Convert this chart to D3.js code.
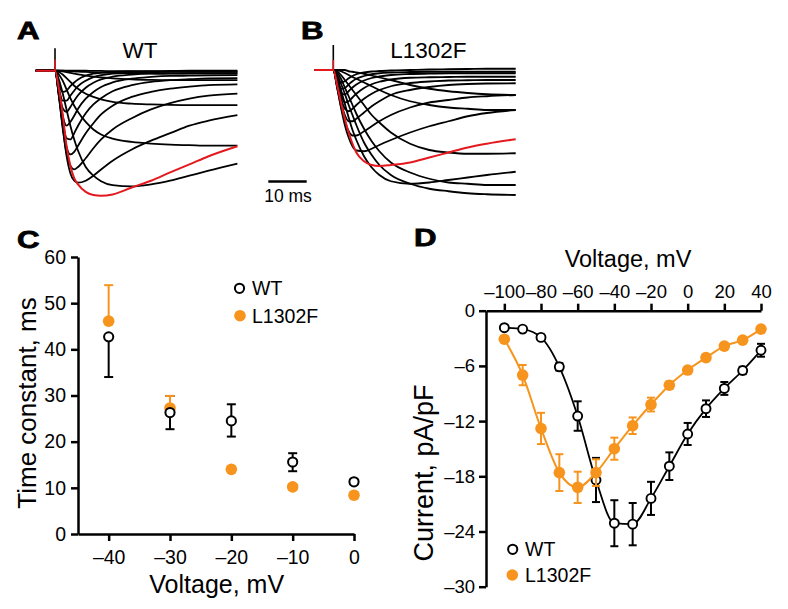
<!DOCTYPE html>
<html><head><meta charset="utf-8">
<script src="https://cdn.jsdelivr.net/npm/d3@7"></script>
<style>body{margin:0;background:#fff}svg{display:block}</style>
</head><body>
<svg id="fig" width="788" height="609"></svg>
<script>
// ---------- DATA ----------
// Panels A/B: current traces (arbitrary nA units) sampled at these times (ms from step)
const traceTime = [-5,0,1,2,3,4,5,6,8,10,12,15,20,25,30,35,40,47.5];
const traceVoltages = [-100,-90,-80,-70,-60,-50,-40,-30,-20,-10,0,10,20,30,40];
const redVoltage = -40;
const wtTraceCurrents = [
  [0,0,0,0,0,0,0,0,0,-0.01,-0.01,-0.02,-0.02,-0.03,-0.03,-0.03,-0.03,-0.03],
  [0,0,0,0,-0.01,-0.02,-0.03,-0.04,-0.05,-0.07,-0.08,-0.09,-0.1,-0.11,-0.12,-0.12,-0.12,-0.12],
  [0,0,0,-0.03,-0.06,-0.09,-0.12,-0.15,-0.2,-0.24,-0.27,-0.31,-0.35,-0.37,-0.38,-0.38,-0.38,-0.38],
  [0,0,-0.05,-0.15,-0.3,-0.45,-0.6,-0.72,-0.92,-1.05,-1.15,-1.25,-1.32,-1.35,-1.37,-1.38,-1.38,-1.38],
  [0,0,-0.15,-0.4,-0.75,-1.1,-1.4,-1.65,-2.05,-2.35,-2.55,-2.72,-2.85,-2.92,-2.96,-2.98,-3.0,-3.0],
  [0,0,-0.35,-0.9,-1.55,-2.2,-2.75,-3.2,-3.85,-4.2,-4.42,-4.58,-4.63,-4.55,-4.4,-4.2,-4.0,-3.72],
  [0,0,-0.7,-1.75,-3.0,-3.8,-4.3,-4.55,-4.85,-4.97,-5.0,-4.95,-4.67,-4.4,-4.07,-3.75,-3.42,-3.02],
  [0,0,-0.9,-2.2,-3.4,-4.1,-4.4,-4.48,-4.4,-4.2,-3.95,-3.6,-3.15,-2.8,-2.5,-2.2,-2.0,-1.78],
  [0,0,-1.0,-2.3,-3.3,-3.8,-3.95,-3.85,-3.5,-3.1,-2.75,-2.35,-1.9,-1.55,-1.3,-1.12,-1.0,-0.92],
  [0,0,-1.0,-2.2,-3.05,-3.35,-3.25,-3.0,-2.5,-2.1,-1.75,-1.4,-1.05,-0.85,-0.72,-0.64,-0.58,-0.55],
  [0,0,-0.95,-2.0,-2.7,-2.75,-2.5,-2.2,-1.7,-1.35,-1.1,-0.82,-0.58,-0.45,-0.38,-0.34,-0.31,-0.3],
  [0,0,-0.9,-1.8,-2.2,-2.05,-1.8,-1.52,-1.12,-0.85,-0.65,-0.47,-0.32,-0.25,-0.21,-0.2,-0.19,-0.18],
  [0,0,-0.8,-1.5,-1.65,-1.45,-1.2,-0.98,-0.68,-0.48,-0.35,-0.24,-0.16,-0.12,-0.11,-0.1,-0.1,-0.1],
  [0,0,-0.7,-1.2,-1.2,-1.0,-0.8,-0.62,-0.4,-0.26,-0.18,-0.12,-0.08,-0.06,-0.05,-0.05,-0.05,-0.05],
  [0,0,-0.55,-0.85,-0.8,-0.62,-0.47,-0.35,-0.2,-0.12,-0.08,-0.05,-0.03,-0.02,-0.01,0,0,0]
];
const lfTraceCurrents = [
  [0,0,0,0,0,-0.05,-0.07,-0.1,-0.15,-0.22,-0.3,-0.4,-0.6,-0.75,-0.85,-0.92,-0.97,-1.0],
  [0,0,0,-0.05,-0.12,-0.2,-0.28,-0.35,-0.5,-0.65,-0.8,-1.0,-1.25,-1.4,-1.5,-1.55,-1.6,-1.6],
  [0,0,-0.05,-0.2,-0.4,-0.6,-0.8,-1.0,-1.4,-1.8,-2.1,-2.5,-2.95,-3.2,-3.3,-3.35,-3.35,-3.33],
  [0,0,-0.1,-0.35,-0.7,-1.05,-1.4,-1.75,-2.35,-2.85,-3.25,-3.7,-4.1,-4.35,-4.5,-4.55,-4.6,-4.6],
  [0,0,-0.2,-0.55,-0.95,-1.4,-1.8,-2.2,-2.9,-3.4,-3.8,-4.2,-4.55,-4.75,-4.85,-4.93,-4.97,-5.0],
  [0,0,-0.3,-0.8,-1.35,-1.9,-2.4,-2.8,-3.45,-3.9,-4.2,-4.45,-4.55,-4.5,-4.4,-4.3,-4.2,-4.07],
  [0,0,-0.6,-1.3,-1.95,-2.5,-2.95,-3.3,-3.65,-3.8,-3.84,-3.8,-3.7,-3.5,-3.3,-3.1,-2.95,-2.77],
  [0,0,-0.7,-1.5,-2.2,-2.7,-3.05,-3.22,-3.25,-3.15,-3.0,-2.8,-2.5,-2.25,-2.05,-1.85,-1.72,-1.6],
  [0,0,-0.7,-1.45,-2.05,-2.45,-2.62,-2.62,-2.45,-2.25,-2.05,-1.8,-1.5,-1.3,-1.2,-1.1,-1.05,-1.0],
  [0,0,-0.65,-1.3,-1.8,-2.05,-2.05,-1.95,-1.7,-1.45,-1.25,-1.0,-0.8,-0.68,-0.6,-0.56,-0.54,-0.53],
  [0,0,-0.6,-1.15,-1.55,-1.65,-1.55,-1.4,-1.15,-0.95,-0.8,-0.65,-0.52,-0.46,-0.42,-0.41,-0.4,-0.4],
  [0,0,-0.55,-1.0,-1.3,-1.25,-1.1,-0.95,-0.72,-0.57,-0.47,-0.38,-0.31,-0.29,-0.28,-0.27,-0.27,-0.27],
  [0,0,-0.5,-0.9,-0.98,-0.85,-0.7,-0.58,-0.42,-0.32,-0.26,-0.2,-0.16,-0.14,-0.13,-0.13,-0.13,-0.13],
  [0,0,-0.45,-0.75,-0.72,-0.58,-0.45,-0.35,-0.24,-0.17,-0.13,-0.1,-0.08,-0.07,-0.07,-0.07,-0.07,-0.07],
  [0,0,-0.35,-0.5,-0.45,-0.33,-0.24,-0.17,-0.1,-0.06,-0.04,-0.02,0,0.02,0.03,0.04,0.05,0.05]
];
const artifactBlack = [0.9, 1.0];   // capacitive spike height, A and B
const artifactRed = [0.45, 0.4];
const scaleBarMs = 10;

// Panel C: inactivation time constant
const tauVoltages = [-40,-30,-20,-10,0];
const wtTau = [42.7, 26.3, 24.5, 15.6, 11.3];
const wtTauErrUp = [0, 3.6, 3.6, 1.9, 0.5];
const wtTauErrDown = [8.7, 3.6, 3.4, 2.0, 0.5];
const lfTau = [46.1, 27.3, 14.0, 10.2, 8.4];
const lfTauErrUp = [7.8, 2.6, 0.6, 0.6, 0.6];
const lfTauErrDown = [0, 0, 0.6, 0.6, 0.6];
const tauTicksX = [-40,-30,-20,-10,0];
const tauTicksY = [0,10,20,30,40,50,60];

// Panel D: current-voltage relation
const ivVoltages = [-100,-90,-80,-70,-60,-50,-40,-30,-20,-10,0,10,20,30,40];
const wtIV = [-1.85,-2.0,-2.9,-6.1,-11.45,-18.4,-23.1,-23.2,-20.4,-16.9,-13.4,-10.65,-8.45,-6.5,-4.3];
const wtIVErr = [0.2,0.2,0.3,0.4,1.6,2.4,2.5,2.3,1.8,1.5,1.2,0.9,0.7,0.4,0.7];
const lfIV = [-3.1,-7.0,-12.8,-17.6,-19.2,-17.6,-15.0,-12.5,-10.2,-8.1,-6.45,-5.1,-3.85,-3.2,-2.0];
const lfIVErr = [0.3,1.1,1.7,2.0,1.7,1.45,1.2,0.9,0.75,0.4,0.3,0.3,0.3,0.3,0.3];
const ivTicksX = [-100,-80,-60,-40,-20,0,20,40];
const ivTicksY = [0,-6,-12,-18,-24,-30];

const seriesNames = ["WT", "L1302F"];

// ---------- DRAW ----------
const FONT = '"Liberation Sans", Arial, Helvetica, sans-serif';
const ORANGE = "#F7941D";
const RED = "#E3191F";
const svg = d3.select("#fig");
const fmt = d => d < 0 ? "\u2013" + Math.abs(d) : String(d);

function txt(x, y, s, size, opts = {}) {
  return svg.append("text").attr("x", x).attr("y", y).text(s)
    .attr("font-family", FONT).attr("font-size", size)
    .attr("text-anchor", opts.anchor || "start")
    .attr("font-weight", opts.weight || "normal")
    .attr("fill", "#000");
}
function letter(x, y, s) {
  svg.append("text").attr("transform", `translate(${x},${y}) scale(1.3,1)`)
    .text(s).attr("font-family", FONT).attr("font-size", 24).attr("font-weight", "bold")
    .attr("stroke", "#000").attr("stroke-width", 0.8).attr("fill", "#000");
}

// Panels A and B
function tracePanel(currents, x0, baseY, idx) {
  const xS = d3.scaleLinear().domain([0, 10]).range([x0, x0 + 38.4]);
  const yS = d3.scaleLinear().domain([0, -5]).range([baseY, baseY + 125]);
  const line = d3.line().x((d, i) => xS(traceTime[i])).y(d => yS(d)).curve(d3.curveMonotoneX);
  const g = svg.append("g");
  const redI = traceVoltages.indexOf(redVoltage);
  currents.forEach((c, i) => {
    if (i === redI) return;
    g.append("path").attr("d", line(c)).attr("fill", "none")
      .attr("stroke", "#000").attr("stroke-width", 1.8).attr("stroke-linejoin", "round");
  });
  g.append("line").attr("x1", xS(0)).attr("x2", xS(0)).attr("y1", yS(0)).attr("y2", yS(artifactBlack[idx]))
    .attr("stroke", "#000").attr("stroke-width", 1.6);
  g.append("path").attr("d", line(currents[redI])).attr("fill", "none")
    .attr("stroke", RED).attr("stroke-width", 2);
  g.append("line").attr("x1", xS(0)).attr("x2", xS(0)).attr("y1", yS(0)).attr("y2", yS(artifactRed[idx]))
    .attr("stroke", RED).attr("stroke-width", 1.6);
  return xS;
}
const xA = tracePanel(wtTraceCurrents, 55, 70.7, 0);
tracePanel(lfTraceCurrents, 333.3, 70, 1);

// scale bar
svg.append("line").attr("x1", 268.3).attr("x2", 268.3 + (xA(scaleBarMs) - xA(0)))
  .attr("y1", 181.5).attr("y2", 181.5).attr("stroke", "#000").attr("stroke-width", 2.6);
txt(288, 202, scaleBarMs + " ms", 17.5, { anchor: "middle" });

letter(17, 38.5, "A");
letter(301, 38.5, "B");
txt(140, 58.3, seriesNames[0], 22.5, { anchor: "middle" });
txt(428.3, 58.3, seriesNames[1], 22.5, { anchor: "middle" });

function styleAxis(g, size) {
  g.selectAll(".domain").attr("stroke", "#000").attr("stroke-width", 2.5);
  g.selectAll(".tick line").attr("stroke", "#000").attr("stroke-width", 2.5);
  g.selectAll(".tick text").attr("font-family", FONT).attr("font-size", size).attr("fill", "#000");
}

function errBars(g, xs, ys, up, down, xS, yS, color, cap) {
  xs.forEach((v, i) => {
    const x = xS(v);
    if (up[i] > 0) {
      g.append("line").attr("x1", x).attr("x2", x).attr("y1", yS(ys[i])).attr("y2", yS(ys[i] + up[i]))
        .attr("stroke", color).attr("stroke-width", 2);
      g.append("line").attr("x1", x - cap).attr("x2", x + cap).attr("y1", yS(ys[i] + up[i])).attr("y2", yS(ys[i] + up[i]))
        .attr("stroke", color).attr("stroke-width", 2);
    }
    if (down[i] > 0) {
      g.append("line").attr("x1", x).attr("x2", x).attr("y1", yS(ys[i])).attr("y2", yS(ys[i] - down[i]))
        .attr("stroke", color).attr("stroke-width", 2);
      g.append("line").attr("x1", x - cap).attr("x2", x + cap).attr("y1", yS(ys[i] - down[i])).attr("y2", yS(ys[i] - down[i]))
        .attr("stroke", color).attr("stroke-width", 2);
    }
  });
}

// Panel C
const xC = d3.scaleLinear().domain([-45, 0]).range([78, 354]);
const yC = d3.scaleLinear().domain([0, 60]).range([534, 257]);
const gCy = svg.append("g").attr("transform", "translate(78,0)")
  .call(d3.axisLeft(yC).tickValues(tauTicksY).tickSize(7).tickSizeOuter(0).tickPadding(5).tickFormat(fmt));
styleAxis(gCy, 19.5);
const gCx = svg.append("g").attr("transform", "translate(0,534)")
  .call(d3.axisBottom(xC).tickValues(tauTicksX).tickSize(7).tickSizeOuter(0).tickPadding(9).tickFormat(fmt));
styleAxis(gCx, 19.5);
const gC = svg.append("g");
errBars(gC, tauVoltages, wtTau, wtTauErrUp, wtTauErrDown, xC, yC, "#000", 4.5);
errBars(gC, tauVoltages, lfTau, lfTauErrUp, lfTauErrDown, xC, yC, ORANGE, 4.5);
gC.selectAll(".lf").data(lfTau).enter().append("circle")
  .attr("cx", (d, i) => xC(tauVoltages[i])).attr("cy", d => yC(d)).attr("r", 5.8).attr("fill", ORANGE);
gC.selectAll(".wt").data(wtTau).enter().append("circle")
  .attr("cx", (d, i) => xC(tauVoltages[i])).attr("cy", d => yC(d)).attr("r", 4.6)
  .attr("fill", "#fff").attr("stroke", "#000").attr("stroke-width", 2);
// legend C
svg.append("circle").attr("cx", 239.5).attr("cy", 288.3).attr("r", 4.6).attr("fill", "#fff").attr("stroke", "#000").attr("stroke-width", 2);
svg.append("circle").attr("cx", 240).attr("cy", 315.7).attr("r", 5.8).attr("fill", ORANGE);
txt(252, 295, seriesNames[0], 19.5);
txt(252, 322.5, seriesNames[1], 19.5);
txt(216.7, 593, "Voltage, mV", 25, { anchor: "middle" });
svg.append("text").attr("transform", "translate(35.5,403) rotate(-90)").attr("text-anchor", "middle")
  .attr("font-family", FONT).attr("font-size", 26).text("Time constant, ms");
letter(17, 248, "C");

// Panel D
const xD = d3.scaleLinear().domain([-110, 40]).range([486, 761]);
const yD = d3.scaleLinear().domain([0, -30]).range([310.7, 586.7]);
const gDy = svg.append("g").attr("transform", "translate(486,0)")
  .call(d3.axisLeft(yD).tickValues(ivTicksY).tickSize(7).tickSizeOuter(0).tickPadding(4).tickFormat(fmt));
styleAxis(gDy, 18.5);
const gDx = svg.append("g").attr("transform", "translate(0,310.7)")
  .call(d3.axisTop(xD).tickValues(ivTicksX).tickSize(7).tickSizeOuter(0).tickPadding(6).tickFormat(fmt));
styleAxis(gDx, 18.5);
const lineD = d3.line().x((d, i) => xD(ivVoltages[i])).y(d => yD(d)).curve(d3.curveMonotoneX);
const gD = svg.append("g");
gD.append("path").attr("d", lineD(wtIV)).attr("fill", "none").attr("stroke", "#000").attr("stroke-width", 1.8);
errBars(gD, ivVoltages, wtIV, wtIVErr, wtIVErr, xD, yD, "#000", 4);
gD.selectAll(".wtd").data(wtIV).enter().append("circle")
  .attr("cx", (d, i) => xD(ivVoltages[i])).attr("cy", d => yD(d)).attr("r", 4.5)
  .attr("fill", "#fff").attr("stroke", "#000").attr("stroke-width", 1.9);
gD.append("path").attr("d", lineD(lfIV)).attr("fill", "none").attr("stroke", ORANGE).attr("stroke-width", 2);
errBars(gD, ivVoltages, lfIV, lfIVErr, lfIVErr, xD, yD, ORANGE, 4);
gD.selectAll(".lfd").data(lfIV).enter().append("circle")
  .attr("cx", (d, i) => xD(ivVoltages[i])).attr("cy", d => yD(d)).attr("r", 5.8).attr("fill", ORANGE);
// legend D
svg.append("circle").attr("cx", 512.7).attr("cy", 549.3).attr("r", 4.6).attr("fill", "#fff").attr("stroke", "#000").attr("stroke-width", 2);
svg.append("circle").attr("cx", 512.3).attr("cy", 575).attr("r", 5.8).attr("fill", ORANGE);
txt(525, 556.3, seriesNames[0], 19.5);
txt(525, 582, seriesNames[1], 19.5);
txt(628, 267, "Voltage, mV", 23.5, { anchor: "middle" });
svg.append("text").attr("transform", "translate(432.5,473) rotate(-90)").attr("text-anchor", "middle")
  .attr("font-family", FONT).attr("font-size", 27).text("Current, pA/pF");
letter(414, 246, "D");
</script>
</body></html>
